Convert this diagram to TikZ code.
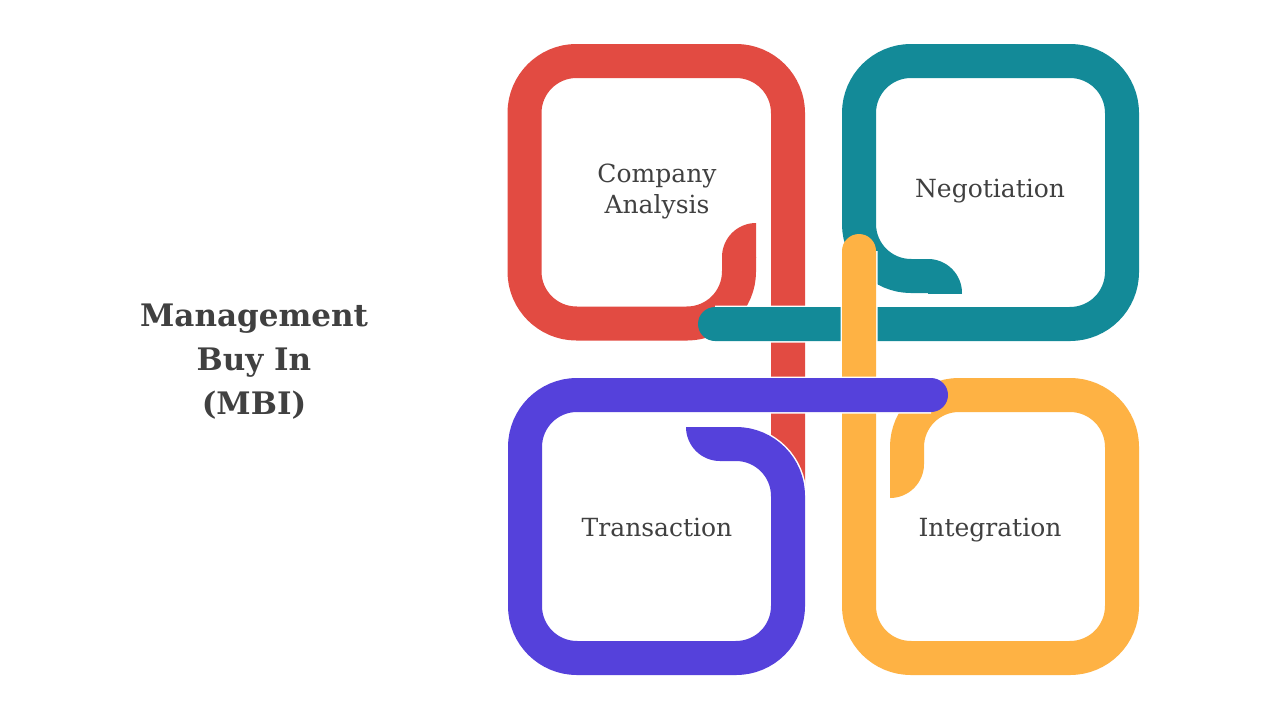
\documentclass[tikz,border=0pt]{standalone}
\usepackage{fontspec}
\setmainfont{DejaVu Serif}
\definecolor{cRed}{HTML}{E24B42}
\definecolor{cTeal}{HTML}{138A98}
\definecolor{cYellow}{HTML}{FEB244}
\definecolor{cPurple}{HTML}{5541DB}
\definecolor{txt}{HTML}{404040}
% white outline part of a quarter-disc hook end
\newcommand\hookhalo[4]{%
  \begin{scope}
    \clip ({#1-#3*1.5},{#2-#4*1.5}) rectangle ({#1+#3*35.5},{#2+#4*35.5});
    \fill[white] (#1,#2) circle[radius=35.5];
  \end{scope}}
% coloured part of a quarter-disc hook end
\newcommand\hookfill[5]{%
  \begin{scope}
    \clip (#1,#2) rectangle ({#1+#3*34},{#2+#4*34});
    \fill[#5] (#1,#2) circle[radius=34];
  \end{scope}}
\begin{document}
\begin{tikzpicture}[x=1pt,y=-1pt,
  band/.style={line width=34pt, rounded corners=52pt,
    preaction={draw=white, line width=37pt}},
  lbl/.style={text=txt, font=\fontsize{25}{31}\selectfont, align=center, inner sep=0pt, anchor=base},
  ttl/.style={text=txt, font=\bfseries\fontsize{31}{44}\selectfont, align=center, inner sep=0pt, anchor=base}]
\useasboundingbox (0,0) rectangle (1280,720);

% red loop (Company Analysis)
\hookhalo{756}{257}{-1}{-1}
\draw[band, cRed] (739,257) -- (739,323.5) -- (524.5,323.5) -- (524.5,61) -- (788,61) -- (788,500);
\hookfill{756}{257}{-1}{-1}{cRed}

% teal loop (Negotiation)
\hookhalo{928}{293}{1}{-1}
\draw[band, cTeal, line cap=round] (928,276) -- (859,276) -- (859,61) -- (1122,61) -- (1122,324) -- (715,324);
\hookfill{928}{293}{1}{-1}{cTeal}

% yellow loop (Integration)
\hookhalo{890}{464}{1}{1}
\draw[band, cYellow, line cap=round] (907,464) -- (907,395) -- (1122,395) -- (1122,658) -- (859,658) -- (859,251);
\hookfill{890}{464}{1}{1}{cYellow}

% purple loop (Transaction)
\hookhalo{720}{427}{-1}{1}
\draw[band, cPurple, line cap=round] (720,444) -- (788,444) -- (788,658) -- (525,658) -- (525,395) -- (931,395);
\hookfill{720}{427}{-1}{1}{cPurple}

% labels (base anchor = baseline of last line)
\node[lbl] (company) at (657,213) {Company\\Analysis};
\node[lbl] (negotiation) at (990,197) {Negotiation};
\node[lbl] (transaction) at (657,536) {Transaction};
\node[lbl] (integration) at (990,536) {Integration};
\node[ttl] (mbi) at (254,414) {Management\\Buy In\\(MBI)};
\end{tikzpicture}
\end{document}
